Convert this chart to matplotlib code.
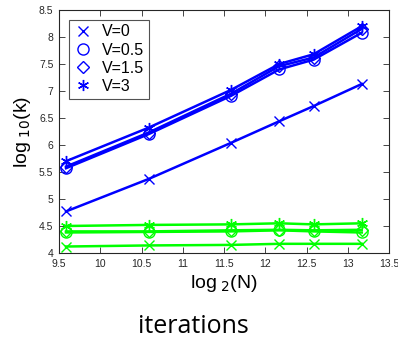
import matplotlib.pyplot as plt
from matplotlib.lines import Line2D

# x positions: log2(N)
log2_n = [9.585, 10.585, 11.585, 12.17, 12.585, 13.17]

labels = ['V=0', 'V=0.5', 'V=1.5', 'V=3']
# MATLAB style markers: x, o, diamond, asterisk
markers = ['x', 'o', 'D', (6, 2, 0)]

# blue series (upper)
blue_vals = [
    [4.77, 5.37, 6.04, 6.44, 6.72, 7.13],
    [5.57, 6.20, 6.91, 7.40, 7.58, 8.08],
    [5.60, 6.23, 6.95, 7.46, 7.62, 8.15],
    [5.70, 6.32, 7.02, 7.50, 7.68, 8.20],
]
# green series (lower)
green_vals = [
    [4.12, 4.14, 4.15, 4.17, 4.17, 4.17],
    [4.38, 4.39, 4.40, 4.42, 4.40, 4.38],
    [4.40, 4.40, 4.42, 4.43, 4.42, 4.43],
    [4.50, 4.52, 4.53, 4.55, 4.53, 4.55],
]

plt.rcParams['font.family'] = ['Liberation Sans', 'DejaVu Sans']

fig = plt.figure(figsize=(3.98, 3.40), dpi=100)
ax = fig.add_axes([59 / 398, 1 - 253 / 340, 330 / 398, 243 / 340])

msz = [7, 8, 6.5, 8]
for m, s, yb, yg in zip(markers, msz, blue_vals, green_vals):
    ax.plot(log2_n, yb, color='#0000ff', lw=1.8, marker=m, ms=s,
            mfc='none', mew=1.0)
    ax.plot(log2_n, yg, color='#00ff00', lw=1.8, marker=m, ms=s,
            mfc='none', mew=1.0)

ax.set_xlim(9.5, 13.5)
ax.set_ylim(4, 8.5)
ax.set_xticks([9.5, 10, 10.5, 11, 11.5, 12, 12.5, 13, 13.5])
ax.set_xticklabels(['9.5', '10', '10.5', '11', '11.5', '12', '12.5', '13', '13.5'])
ax.set_yticks([4, 4.5, 5, 5.5, 6, 6.5, 7, 7.5, 8, 8.5])
ax.set_yticklabels(['4', '4.5', '5', '5.5', '6', '6.5', '7', '7.5', '8', '8.5'])
ax.tick_params(direction='in', top=True, right=True, labelsize=7.5,
               colors='#262626', length=4, width=0.6, pad=4)
for sp in ax.spines.values():
    sp.set_color('#262626')
    sp.set_linewidth(0.8)

ax.set_xlabel(r'log$_{\ 2}$(N)', fontsize=14, labelpad=3)
ax.set_ylabel(r'log$_{\ 10}$(k)', fontsize=14, labelpad=4)

handles = [Line2D([], [], color='#0000ff', ls='none', marker=m, ms=s,
                  mfc='none', mew=1.0) for m, s in zip(markers, msz)]
leg = ax.legend(handles, labels, loc='upper left', fontsize=11.5,
                frameon=True, fancybox=False, edgecolor='#262626',
                handlelength=1.2, handletextpad=0.6, labelspacing=0.2,
                borderaxespad=0.6, borderpad=0.3)
leg.get_frame().set_linewidth(0.8)

fig.text(193 / 398, 1 - 333 / 340, 'iterations', ha='center', va='baseline',
         fontsize=18, family=['Open Sans', 'DejaVu Sans'])

fig.savefig('out.png', dpi=100)
